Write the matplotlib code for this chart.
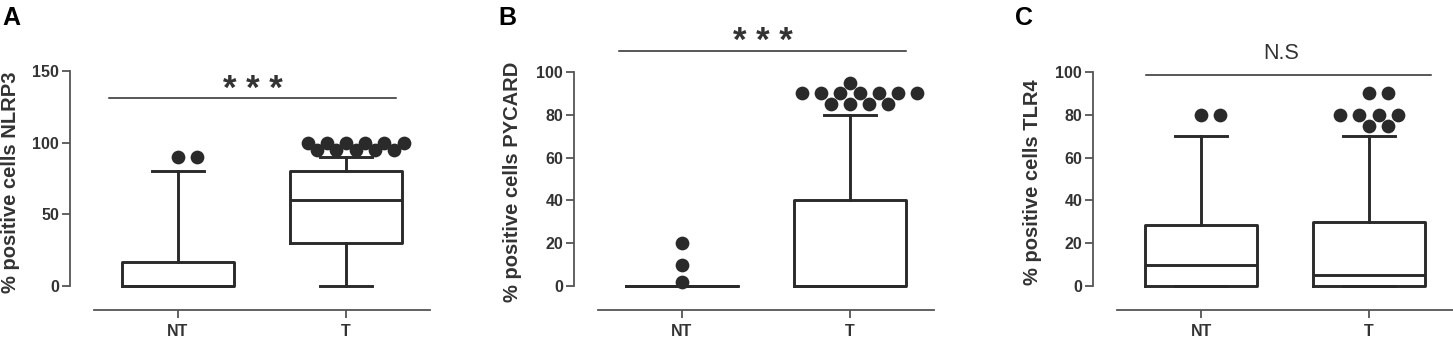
import numpy as np
import matplotlib.pyplot as plt

plt.rcParams['font.family'] = ['Liberation Sans', 'DejaVu Sans']

groups = ['NT', 'T']
panels = ['A', 'B', 'C']
ylabels = ['% positive cells NLRP3', '% positive cells PYCARD', '% positive cells TLR4']
yticks = [[0, 50, 100, 150], [0, 20, 40, 60, 80, 100], [0, 20, 40, 60, 80, 100]]
sig_text = ['* * *', '* * *', 'N.S']
sig_level = [131, 110, 98.5]

# box stats: (q1, median, q3, whisker low, whisker high)
nlrp3_nt = (0, 0, 17, 0, 80)
nlrp3_t = (30, 60, 80, 0, 90)
pycard_nt = (0, 0, 0, 0, 0)
pycard_t = (0, 0, 40, 0, 80)
tlr4_nt = (0, 10, 28.5, 0, 70)
tlr4_t = (0, 5, 30, 0, 70)

# outlier dots
nlrp3_nt_out = [90, 90]
nlrp3_t_out = [100, 100, 100, 100, 100, 100, 95, 95, 95, 95, 95]
pycard_nt_out = [2, 10, 20]
pycard_t_out = [85, 85, 85, 85, 90, 90, 90, 90, 90, 90, 90, 95]
tlr4_nt_out = [80, 80]
tlr4_t_out = [75, 75, 80, 80, 80, 80, 90, 90]

stats = [(nlrp3_nt, nlrp3_t), (pycard_nt, pycard_t), (tlr4_nt, tlr4_t)]
outliers = [(nlrp3_nt_out, nlrp3_t_out), (pycard_nt_out, pycard_t_out), (tlr4_nt_out, tlr4_t_out)]

W, H = 1453, 338
fig = plt.figure(figsize=(W / 100, H / 100), dpi=100)

ink = '#2a2a2a'
axis_col = '#555555'
txt = '#333333'

# axes frames in pixels: left, y of zero, y of top tick
frames = [(94, 286, 71), (598, 286, 72), (1117, 286, 72)]
sig_span = [(-0.41, 1.30), (-0.375, 1.335), (-0.33, 1.37)]
letter_x = [2, 498, 1015]
ylabel_x = [11, 513, 1033]


def to_dict(s, pos):
    q1, med, q3, lo, hi = s
    return dict(q1=q1, med=med, q3=q3, whislo=lo, whishi=hi, fliers=[], label=pos)


def swarm(ax, x0, values, step=9.6, dmin=11.5):
    # greedy beeswarm in pixel space, like Prism's scatter of outliers
    px0 = ax.transData.transform((0, 0))
    px1 = ax.transData.transform((1, 0))
    xscale = px1[0] - px0[0]
    placed = []
    xs = []
    cands = [0]
    for k in range(1, 40):
        cands += [k * step, -k * step]
    for v in values:
        yp = ax.transData.transform((0, v))[1]
        for c in cands:
            ok = all(np.hypot(c - pc, yp - py) >= dmin for pc, py in placed)
            if ok:
                placed.append((c, yp))
                xs.append(x0 + c / xscale)
                break
    return xs


for i in range(3):
    left, y0, ytop = frames[i]
    top_val = yticks[i][-1]
    ax = fig.add_axes([left / W, (H - y0) / H, 336 / W, (y0 - ytop) / H])
    ax.set_xlim(-0.5, 1.5)
    ax.set_ylim(0, top_val)

    bx = [to_dict(stats[i][j], groups[j]) for j in range(2)]
    lp = dict(color=ink, linewidth=2.1)
    ax.bxp(bx, positions=[0, 1], widths=0.67, capwidths=0.31, showfliers=False,
           boxprops=lp, whiskerprops=lp, capprops=lp, medianprops=lp)
    for a in ax.lines:
        a.set_clip_on(False)

    for j in range(2):
        xs = swarm(ax, j, outliers[i][j])
        ax.scatter(xs, outliers[i][j], s=98, color=ink, zorder=5, clip_on=False,
                   linewidths=0)

    # significance bar
    x1, x2 = sig_span[i]
    ax.plot([x1, x2], [sig_level[i], sig_level[i]], color=ink, lw=1.1, clip_on=False)
    if sig_text[i] == 'N.S':
        ax.annotate('N.S', ((x1 + x2) / 2 - 0.04, sig_level[i]), xytext=(0, 8),
                    textcoords='offset points', ha='center', va='bottom',
                    fontsize=15.5, color=txt, annotation_clip=False)
    else:
        ax.annotate(sig_text[i], ((x1 + x2) / 2, sig_level[i]), xytext=(0, -0.5),
                    textcoords='offset points', ha='center', va='baseline',
                    fontsize=25, fontweight='bold', color=txt, annotation_clip=False)

    for s in ['top', 'right']:
        ax.spines[s].set_visible(False)
    ax.spines['left'].set_position(('outward', 17.3))
    ax.spines['bottom'].set_position(('outward', 17.3))
    ax.spines['left'].set_bounds(0, top_val)
    for s in ['left', 'bottom']:
        ax.spines[s].set_color(axis_col)
        ax.spines[s].set_linewidth(1.3)
    ax.set_yticks(yticks[i])
    ax.set_xticks([0, 1])
    ax.set_xticklabels(groups)
    ax.tick_params(axis='both', length=5.8, width=1.3, color=axis_col,
                   labelsize=11.5, labelcolor=txt, pad=2)
    ax.tick_params(axis='x', pad=4)
    for lab in ax.get_xticklabels() + ax.get_yticklabels():
        lab.set_fontweight('bold')

    fig.text(ylabel_x[i] / W, (H - 182) / H, ylabels[i], rotation=90, ha='center',
             va='center', fontsize=14.5, fontweight='bold', color=txt)
    fig.text(letter_x[i] / W, 1 - 6 / H, panels[i], ha='left', va='top',
             fontsize=18, fontweight='bold', color='black')

fig.savefig('out.png', dpi=100)
